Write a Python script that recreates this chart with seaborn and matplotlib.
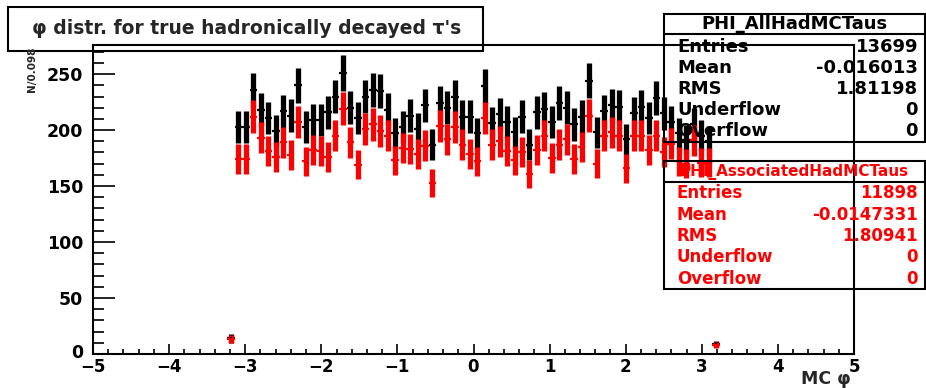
import numpy as np
import matplotlib
matplotlib.use("Agg")
import matplotlib.pyplot as plt
from matplotlib.patches import Rectangle
from matplotlib.ticker import MultipleLocator, FixedLocator
from matplotlib.transforms import ScaledTranslation
import seaborn as sns

# histogram binning: 102 bins between -5 and 5 (N/0.098)
bin_edges = np.linspace(-5, 5, 103)
bin_centers = 0.5 * (bin_edges[:-1] + bin_edges[1:])
first_bin = 18  # first filled bin (edge bin around -pi)

# counts per bin (edge bin, 64 full bins, edge bin)
all_had = [14,
           203, 203, 236, 218, 211, 199, 217, 213, 240, 203, 209, 209, 216,
           230, 251, 220, 211, 230, 236, 235, 218, 197, 203, 213, 201, 222,
           187, 224, 220, 230, 212, 212, 197, 239, 206, 214, 207, 198, 212,
           187, 216, 219, 207, 224, 220, 205, 212, 244, 198, 217, 222, 221,
           192, 215, 221, 211, 229, 215, 207, 197, 191, 205, 195, 190,
           9]
assoc_had = [13,
             174, 174, 212, 193, 181, 176, 189, 178, 207, 172, 182, 181, 176,
             195, 219, 189, 169, 201, 205, 199, 195, 173, 184, 183, 179, 186,
             153, 204, 192, 203, 187, 179, 172, 211, 187, 190, 181, 173, 180,
             161, 182, 195, 175, 187, 192, 174, 185, 213, 170, 195, 198, 195,
             166, 195, 195, 182, 195, 180, 188, 172, 170, 191, 171, 171,
             8]

y_ticks = [0, 50, 100, 150, 200, 250]

stats_all = [("Entries", "13699"), ("Mean", "-0.016013"), ("RMS", "1.81198"),
             ("Underflow", "0"), ("Overflow", "0")]
stats_assoc = [("Entries", "11898"), ("Mean", "-0.0147331"), ("RMS", "1.80941"),
               ("Underflow", "0"), ("Overflow", "0")]

W, H = 926, 388


def fx(px):
    return px / W


def fy(py):
    return 1 - py / H


sns.set_theme(style="ticks")
plt.rcParams['font.family'] = ['DejaVu Sans']
plt.rcParams['font.weight'] = 'bold'

fig = plt.figure(figsize=(W / 100, H / 100), dpi=100)
ax = fig.add_axes([fx(93), fy(354), fx(854) - fx(93), fy(45) - fy(354)])
ax.set_facecolor('white')

n = len(all_had)
x = bin_centers[first_bin:first_bin + n]
half = 0.5 * (bin_edges[1] - bin_edges[0])

for counts, col in [(all_had, 'black'), (assoc_had, 'red')]:
    y = np.array(counts, dtype=float)
    ax.errorbar(x, y, yerr=np.sqrt(y), fmt='none', ecolor=col,
                elinewidth=3.8, capsize=0)
    ax.errorbar(x, y, xerr=half, fmt='none', ecolor=col,
                elinewidth=1.6, capsize=0)
    sns.scatterplot(x=x, y=y, color=col, marker='s', s=3, linewidth=0,
                    ax=ax, zorder=3)

ax.set_xlim(-5, 5)
ax.set_ylim(0, 276)
ax.xaxis.set_major_locator(MultipleLocator(1))
ax.xaxis.set_minor_locator(MultipleLocator(0.2))
ax.yaxis.set_major_locator(FixedLocator(y_ticks))
ax.yaxis.set_minor_locator(MultipleLocator(10))
ax.tick_params(which='both', direction='in', top=False, right=False,
               width=1.2, colors='black')
ax.tick_params(axis='x', which='major', length=7, pad=3, labelsize=12)
ax.tick_params(axis='x', which='minor', length=3.5)
ax.tick_params(axis='y', which='major', length=16, pad=7, labelsize=12.5)
ax.tick_params(axis='y', which='minor', length=8)
for lab in ax.get_xticklabels() + ax.get_yticklabels():
    lab.set_fontweight('bold')
# nudge the "0" label up a little so it clears the "-5" below it
zero_lab = ax.yaxis.get_major_ticks()[0].label1
zero_lab.set_transform(zero_lab.get_transform()
                       + ScaledTranslation(0, 2.5 / 72, fig.dpi_scale_trans))
for sp in ax.spines.values():
    sp.set_linewidth(1.5)
    sp.set_color('black')
    sp.set_visible(True)

fig.text(fx(851), fy(388), "MC \u03c6", ha='right', va='bottom',
         fontsize=12.5, fontweight='bold')
fig.text(fx(32), fy(47), "N/0.098", ha='center', va='top', rotation=90,
         fontsize=7.5, fontweight='bold')

# title box
fig.patches.append(Rectangle((fx(8), fy(51)), fx(483) - fx(8), fy(7) - fy(51),
                             transform=fig.transFigure, fill=False,
                             edgecolor='black', linewidth=1.5))
fig.text(fx(247), fy(28), "\u03c6 distr. for true hadronically decayed \u03c4's",
         ha='center', va='center', fontsize=13.5, fontweight='bold')


def stat_box(top, sep, bottom, name, rows, col, name_size, row_size, row_y):
    fig.patches.append(Rectangle((fx(664), fy(bottom)), fx(925) - fx(664),
                                 fy(top) - fy(bottom), transform=fig.transFigure,
                                 fill=False, edgecolor='black', linewidth=1.5))
    fig.lines.append(plt.Line2D([fx(664), fx(925)], [fy(sep), fy(sep)],
                                transform=fig.transFigure, color='black',
                                linewidth=1.5))
    fig.text(fx(794), fy((top + sep) / 2), name, ha='center', va='center',
             fontsize=name_size, fontweight='bold', color=col)
    for (lab, val), yy in zip(rows, row_y):
        fig.text(fx(677), fy(yy), lab, ha='left', va='center',
                 fontsize=row_size, fontweight='bold', color=col)
        fig.text(fx(918), fy(yy), val, ha='right', va='center',
                 fontsize=row_size, fontweight='bold', color=col)


stat_box(14, 34, 142, "PHI_AllHadMCTaus", stats_all, 'black', 13, 13,
         [47, 68, 89, 110, 131])
stat_box(161, 182, 289, "PHI_AssociatedHadMCTaus", stats_assoc, 'red', 11, 12,
         [193, 215, 236, 257, 279])

fig.savefig("out.png", dpi=100)
